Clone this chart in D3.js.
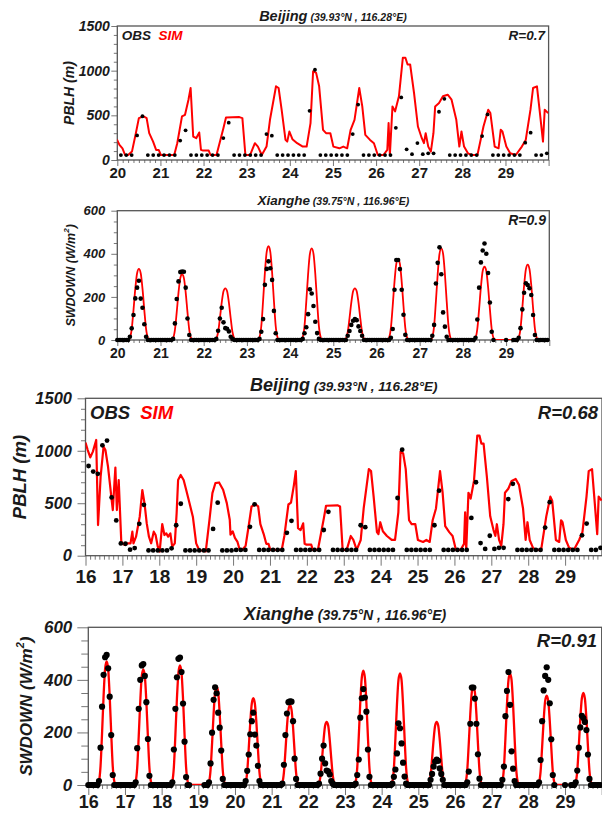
<!DOCTYPE html>
<html>
<head>
<meta charset="utf-8">
<script src="https://cdn.jsdelivr.net/npm/d3@7"></script>
<style>
body { margin: 0; background: #fff; }
svg { display: block; font-family: "Liberation Sans", Arial, sans-serif; }
</style>
</head>
<body>
<svg id="chart" width="602" height="813"></svg>
<script>
// ---------- data ----------
var dayTicksShort = [20, 21, 22, 23, 24, 25, 26, 27, 28, 29];
var dayTicksLong = [16, 17, 18, 19, 20, 21, 22, 23, 24, 25, 26, 27, 28, 29];
var pblhTicks = [0, 500, 1000, 1500];
var swTicks = [0, 200, 400, 600];

// PBLH simulation (time in days, local), vertices of the red line
var pblhSimT = [16.0, 16.06, 16.13, 16.2, 16.29, 16.34, 16.41, 16.49, 16.54, 16.61, 16.67, 16.7, 16.74, 16.81, 16.85, 16.9, 16.97,
  17.01, 17.06, 17.15, 17.22, 17.27, 17.3, 17.37, 17.47, 17.54, 17.6, 17.66, 17.72, 17.78, 17.85, 17.9, 17.96,
  18.01, 18.08, 18.14, 18.19, 18.24, 18.3, 18.35, 18.42, 18.47, 18.51, 18.58, 18.66, 18.73, 18.82, 18.91,
  19.0, 19.08, 19.26, 19.36, 19.44, 19.52, 19.62, 19.73, 19.83, 19.91, 19.93, 19.99,
  20.05, 20.12, 20.18, 20.25, 20.34, 20.43, 20.5, 20.61, 20.68, 20.74, 20.83, 20.9, 20.96,
  21.01, 21.32, 21.39, 21.5, 21.57, 21.65, 21.7, 21.76, 21.83, 21.9, 21.94, 21.99,
  22.12, 22.16, 22.3, 22.39, 22.46, 22.52, 22.83, 22.9, 22.97,
  23.08, 23.19, 23.26, 23.35, 23.46, 23.54, 23.68, 23.74, 23.81, 23.9, 23.94, 23.99,
  24.06, 24.17, 24.3, 24.39, 24.48, 24.54, 24.61, 24.68, 24.77, 24.84, 24.94,
  25.01, 25.15, 25.24, 25.33, 25.41, 25.5, 25.61, 25.68, 25.75, 25.86, 25.95,
  26.04, 26.17, 26.26, 26.29, 26.32, 26.38, 26.44, 26.53, 26.62, 26.68, 26.73, 26.79, 26.88, 26.97,
  27.06, 27.11, 27.15, 27.21, 27.27, 27.33, 27.37, 27.46, 27.55, 27.66, 27.75, 27.86, 27.93, 27.98,
  28.04, 28.13, 28.22, 28.35, 28.49, 28.6, 28.65, 28.75, 28.84, 28.89, 28.93,
  29.02, 29.11, 29.24, 29.38, 29.47, 29.58, 29.64, 29.73, 29.79, 29.87, 29.91, 29.99];
var pblhSimV = [1077, 1007, 937, 992, 1103, 292, 753, 1039, 1007, 849, 658, 560, 435, 840, 435, 720, 133,
  118, 102, 118, 118, 229, 118, 181, 372, 626, 499, 308, 181, 118, 229, 197, 86,
  38, 302, 197, 213, 181, 213, 86, 118, 404, 721, 769, 721, 626, 499, 372,
  118, 54, 41, 342, 596, 691, 698, 628, 501, 342, 200, 231,
  169, 131, 56, 56, 94, 300, 469, 488, 469, 300, 206, 113, 113,
  56, 56, 188, 488, 506, 675, 806, 263, 244, 308, 113, 105,
  105, 56, 56, 225, 356, 476, 480, 469, 56,
  56, 188, 150, 56, 150, 450, 825, 806, 563, 225, 206, 319,
  233, 188, 150, 150, 413, 994, 975, 825, 338, 300, 300,
  150, 131, 150, 131, 338, 450, 806, 600, 281, 225, 188,
  56, 56, 113, 413, 56, 600, 544, 713, 1144, 1144, 1069, 1069, 750, 375,
  244, 188, 300, 150, 94, 300, 600, 638, 713, 731, 675, 450, 150, 319,
  150, 75, 56, 56, 375, 563, 525, 150, 131, 338, 319,
  150, 75, 56, 150, 225, 563, 806, 825, 563, 206, 563, 525];

// PBLH observations, 3-hourly (local hours)
var pblhObsHours = [2, 5, 8, 11, 14, 17, 20, 23];
var pblhObsDays = [16, 17, 18, 19, 20, 21, 22, 23, 24, 25, 26, 27, 28, 29];
var pblhObs = [
  [855, 802, 780, 1052, 1097, 555, 336, 117],
  [114, 57, 73, 304, 485, 50, 50, 50],
  [50, 50, 70, 290, 495, 50, 50, 50],
  [50, 50, 50, 255, 505, 50, 50, 50],
  [55, 55, 55, 275, 490, 55, 55, 55],
  [55, 55, 55, 218, 332, 55, 55, 55],
  [55, 55, 55, 245, 418, 55, 55, 55],
  [55, 55, 55, 290, 272, 55, 55, 55],
  [55, 55, 55, 550, 1010, 55, 55, 55],
  [55, 55, 55, 290, 620, 55, 55, 55],
  [55, 55, 55, 360, 700, 120, 65, 190],
  [65, 75, 75, 540, 685, 55, 55, 55],
  [55, 55, 55, 268, 510, 55, 55, 55],
  [55, 55, 55, 194, 306, 55, 55, 75]
];

// SWDOWN, hourly; values listed for daylight hours 7..17, zero otherwise
var swHours = [7, 8, 9, 10, 11, 12, 13, 14, 15, 16, 17];
var swDays = [16, 17, 18, 19, 20, 21, 22, 23, 24, 25, 26, 27, 28, 29];
var swSim = [
  [14, 71, 197, 338, 442, 470, 442, 338, 197, 71, 14],
  [13, 66, 185, 317, 414, 440, 414, 317, 185, 66, 13],
  [14, 68, 191, 328, 428, 455, 428, 328, 191, 68, 14],
  [11, 56, 158, 270, 353, 375, 353, 270, 158, 56, 11],
  [10, 50, 139, 238, 310, 330, 310, 238, 139, 50, 10],
  [9, 46, 128, 220, 287, 305, 287, 220, 128, 46, 9],
  [7, 36, 101, 173, 226, 240, 226, 173, 101, 36, 7],
  [13, 65, 183, 313, 409, 435, 409, 313, 183, 65, 13],
  [13, 64, 179, 306, 400, 425, 400, 306, 179, 64, 13],
  [7, 36, 101, 173, 226, 240, 226, 173, 101, 36, 7],
  [11, 56, 158, 270, 353, 375, 353, 270, 158, 56, 11],
  [13, 64, 179, 306, 400, 425, 400, 306, 179, 64, 13],
  [10, 51, 143, 245, 320, 340, 320, 245, 143, 51, 10],
  [11, 53, 147, 252, 329, 350, 329, 252, 147, 53, 11]
];
var swObs = [
  [15, 142, 298, 419, 486, 495, 444, 336, 190, 38, 0],
  [10, 140, 290, 400, 455, 460, 415, 315, 175, 35, 0],
  [10, 135, 290, 410, 480, 485, 430, 310, 165, 30, 0],
  [10, 82, 199, 324, 372, 349, 275, 218, 131, 23, 0],
  [15, 54, 116, 193, 243, 275, 192, 150, 73, 15, 0],
  [5, 77, 190, 272, 315, 318, 317, 243, 100, 23, 0],
  [5, 43, 100, 150, 82, 55, 52, 40, 15, 5, 0],
  [5, 38, 97, 256, 330, 365, 333, 279, 135, 31, 0],
  [5, 31, 59, 120, 235, 216, 158, 85, 32, 5, 0],
  [0, 20, 42, 70, 89, 97, 92, 63, 42, 20, 0],
  [0, 10, 51, 233, 371, 371, 329, 233, 117, 24, 0],
  [20, 70, 262, 358, 430, 305, 128, 62, 15, 0, 0],
  [10, 95, 243, 360, 415, 448, 400, 311, 174, 38, 0],
  [10, 55, 142, 219, 263, 255, 240, 209, 116, 23, 0]
];
// periods without observations
var swObsGaps = [[18.76, 19.16], [28.72, 28.98], [29.02, 29.14]];

// ---------- build series ----------
var pblhSimSeries = pblhSimT.map(function(t, i) { return {t: t, v: pblhSimV[i]}; });
var pblhObsSeries = [];
pblhObsDays.forEach(function(d, i) {
    pblhObsHours.forEach(function(h, j) {
        pblhObsSeries.push({t: d + h / 24, v: pblhObs[i][j]});
    });
});

function hourlySeries(rows) {
    var out = [];
    swDays.forEach(function(d, i) {
        for(var h = 0; h < 24; h++) {
            var k = swHours.indexOf(h);
            out.push({t: d + h / 24, v: k < 0 ? 0 : rows[i][k]});
        }
    });
    return out;
}
var swSimSeries = hourlySeries(swSim);
var swObsSeries = hourlySeries(swObs).filter(function(p) {
    return !swObsGaps.some(function(g) { return p.t > g[0] && p.t < g[1]; });
});

// ---------- drawing ----------
var svg = d3.select('#chart');

function drawPanel(p) {
    var x = d3.scaleLinear().domain(p.xDom).range([p.x0, p.x1]);
    var y = d3.scaleLinear().domain(p.yDom).range([p.yBot, p.yTop]);
    var g = svg.append('g');

    g.append('clipPath').attr('id', 'clip' + p.id)
      .append('rect')
        .attr('x', p.x0).attr('y', p.yTop)
        .attr('width', p.x1 - p.x0).attr('height', p.yBot - p.yTop);

    // minor ticks every 3 hours
    var xMinor = d3.range(p.xDom[0], p.xDom[1], 0.125).filter(function(t) { return t % 1 !== 0; });
    g.append('g')
        .attr('transform', 'translate(0,' + p.yBot + ')')
        .call(d3.axisBottom(x).tickValues(xMinor).tickSize(p.xMinLen).tickFormat(''))
        .call(function(a) { a.select('.domain').remove(); });
    var xa = g.append('g')
        .attr('transform', 'translate(0,' + p.yBot + ')')
        .call(d3.axisBottom(x).tickValues(p.xTicks.concat([p.xDom[1]])).tickSize(p.xMajLen).tickFormat(function(d) {
            return d === p.xDom[1] ? '' : d;
        }));
    xa.select('.domain').remove();
    xa.selectAll('text')
        .attr('dy', null)
        .attr('y', p.xLabBase - p.yBot)
        .style('font-size', p.xTickFont + 'px')
        .style('font-weight', 'bold')
        .attr('fill', '#1a1a1a');

    var yMinor = d3.range(p.yDom[0], p.yDom[1], p.yMinorStep).filter(function(v) { return p.yTicks.indexOf(v) < 0; });
    g.append('g')
        .attr('transform', 'translate(' + p.x0 + ',0)')
        .call(d3.axisLeft(y).tickValues(yMinor).tickSize(p.yMinLen).tickFormat(''))
        .call(function(a) { a.select('.domain').remove(); });
    var ya = g.append('g')
        .attr('transform', 'translate(' + p.x0 + ',0)')
        .call(d3.axisLeft(y).tickValues(p.yTicks).tickSize(p.yMajLen).tickPadding(p.yPad).tickFormat(d3.format('d')));
    ya.select('.domain').remove();
    ya.selectAll('text')
        .style('font-size', p.yTickFont + 'px')
        .style('font-weight', 'bold')
        .style('font-style', 'italic')
        .attr('fill', '#1a1a1a');
    g.selectAll('.tick line').attr('stroke', '#777');

    // frame
    g.append('rect')
        .attr('x', p.x0).attr('y', p.yTop)
        .attr('width', p.x1 - p.x0).attr('height', p.yBot - p.yTop)
        .attr('fill', 'none').attr('stroke', '#555').attr('stroke-width', 1.3);

    // simulation line
    var line = d3.line()
        .x(function(d) { return x(d.t); })
        .y(function(d) { return y(d.v); })
        .curve(p.smooth ? d3.curveMonotoneX : d3.curveLinear);
    var sim = p.sim.filter(function(d) { return d.t >= p.xDom[0] - 0.05 && d.t <= p.xDom[1] + 0.05; });
    g.append('path')
        .datum(sim)
        .attr('clip-path', 'url(#clip' + p.id + ')')
        .attr('d', line)
        .attr('fill', 'none')
        .attr('stroke', '#ff0000')
        .attr('stroke-width', p.lw)
        .attr('stroke-linejoin', 'round');

    // observation dots
    g.append('g').selectAll('circle')
        .data(p.obs.filter(function(d) { return d.t >= p.xDom[0] && d.t < p.xDom[1]; }))
        .enter().append('circle')
            .attr('cx', function(d) { return x(d.t); })
            .attr('cy', function(d) { return y(d.v); })
            .attr('r', p.r)
            .attr('fill', '#000');

    // title
    var title = g.append('text')
        .attr('x', (p.x0 + Math.min(p.x1, 602)) / 2)
        .attr('y', p.titleY)
        .attr('text-anchor', 'middle')
        .style('font-weight', 'bold')
        .style('font-style', 'italic')
        .attr('fill', '#1a1a1a');
    title.append('tspan').style('font-size', p.titleFont + 'px').text(p.site);
    title.append('tspan').style('font-size', p.subFont + 'px').text(' ' + p.coords);

    // legend
    if(p.legend) {
        var lg = g.append('text')
            .attr('x', p.x0 + p.legPad)
            .attr('y', p.legY)
            .style('font-size', p.legFont + 'px')
            .style('font-weight', 'bold')
            .style('font-style', 'italic');
        lg.append('tspan').attr('fill', '#1a1a1a').text('OBS');
        lg.append('tspan').attr('fill', '#ff0000').attr('dx', p.legFont * 0.55).text('SIM');
    }

    // correlation
    g.append('text')
        .attr('x', p.rX)
        .attr('y', p.legY)
        .attr('text-anchor', 'end')
        .style('font-size', p.legFont + 'px')
        .style('font-weight', 'bold')
        .style('font-style', 'italic')
        .attr('fill', '#1a1a1a')
        .text(p.rText);

    // y axis title
    g.append('text')
        .attr('transform', 'translate(' + p.ylabX + ',' + ((p.yTop + p.yBot) / 2) + ') rotate(-90)')
        .attr('text-anchor', 'middle')
        .attr('dominant-baseline', 'central')
        .style('font-size', p.ylabFont + 'px')
        .style('font-weight', 'bold')
        .style('font-style', 'italic')
        .attr('fill', '#1a1a1a')
        .html(p.ylab);
}

var swLabel = 'SWDOWN (W/m<tspan baseline-shift="super" font-size="65%">2</tspan>)';

drawPanel({id: 1, x0: 117.3, x1: 548.6, yTop: 26, yBot: 160, xDom: [20, 30], yDom: [0, 1500],
    xTicks: dayTicksShort, yTicks: pblhTicks, yMinorStep: 100,
    xMinLen: 3, xMajLen: 6, yMinLen: 3.5, yMajLen: 6, yPad: 1.5,
    xTickFont: 15, xLabBase: 178, yTickFont: 14,
    sim: pblhSimSeries, obs: pblhObsSeries, smooth: false, lw: 2, r: 1.9,
    site: 'Beijing', coords: '(39.93\u00b0N , 116.28\u00b0E)', titleY: 21, titleFont: 14.5, subFont: 10.5,
    legend: true, legPad: 4.5, legY: 40, legFont: 13.5, rX: 545, rText: 'R=0.7',
    ylabX: 69, ylabFont: 14, ylab: 'PBLH (m)'});

drawPanel({id: 2, x0: 117.3, x1: 549.3, yTop: 210.7, yBot: 340, xDom: [20, 30], yDom: [0, 600],
    xTicks: dayTicksShort, yTicks: swTicks, yMinorStep: 50,
    xMinLen: 3, xMajLen: 6, yMinLen: 3.5, yMajLen: 6, yPad: 6,
    xTickFont: 14, xLabBase: 358, yTickFont: 13,
    sim: swSimSeries, obs: swObsSeries, smooth: true, lw: 1.8, r: 2.3,
    site: 'Xianghe', coords: '(39.75\u00b0N , 116.96\u00b0E)', titleY: 205, titleFont: 13.5, subFont: 10.5,
    legend: false, legY: 225, legFont: 14, rX: 546, rText: 'R=0.9',
    ylabX: 71, ylabFont: 12.5, ylab: swLabel});

drawPanel({id: 3, x0: 85.5, x1: 602, yTop: 398.3, yBot: 555.7, xDom: [16, 30], yDom: [0, 1500],
    xTicks: dayTicksLong, yTicks: pblhTicks, yMinorStep: 100,
    xMinLen: 4, xMajLen: 10, yMinLen: 4.5, yMajLen: 8, yPad: 5.5,
    xTickFont: 19, xLabBase: 583, yTickFont: 16.5,
    sim: pblhSimSeries, obs: pblhObsSeries, smooth: false, lw: 2.2, r: 2.4,
    site: 'Beijing', coords: '(39.93\u00b0N , 116.28\u00b0E)', titleY: 391, titleFont: 18, subFont: 13.5,
    legend: true, legPad: 4.5, legY: 419, legFont: 18.5, rX: 598, rText: 'R=0.68',
    ylabX: 19, ylabFont: 18.5, ylab: 'PBLH (m)'});

drawPanel({id: 4, x0: 88.3, x1: 601.7, yTop: 627.3, yBot: 785, xDom: [16, 30], yDom: [0, 600],
    xTicks: dayTicksLong, yTicks: swTicks, yMinorStep: 50,
    xMinLen: 4, xMajLen: 10, yMinLen: 7, yMajLen: 11, yPad: 5,
    xTickFont: 18, xLabBase: 808, yTickFont: 17,
    sim: swSimSeries, obs: swObsSeries, smooth: true, lw: 2.3, r: 3.1,
    site: 'Xianghe', coords: '(39.75\u00b0N , 116.96\u00b0E)', titleY: 620, titleFont: 18, subFont: 14,
    legend: false, legY: 647, legFont: 18.5, rX: 597, rText: 'R=0.91',
    ylabX: 26, ylabFont: 17, ylab: swLabel});
</script>
</body>
</html>
